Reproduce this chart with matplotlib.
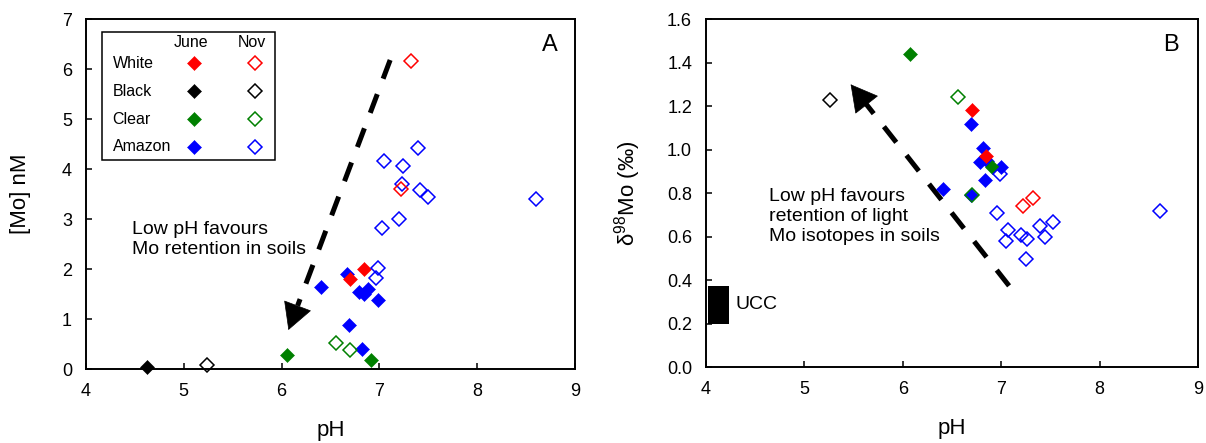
import matplotlib
matplotlib.use("Agg")
import matplotlib.pyplot as plt
from matplotlib.patches import Rectangle

plt.rcParams['font.family'] = ['Liberation Sans', 'DejaVu Sans']
plt.rcParams['mathtext.fontset'] = 'custom'
plt.rcParams['mathtext.rm'] = 'Liberation Sans'
plt.rcParams['mathtext.it'] = 'Liberation Sans:italic'

# ---------------- data : panel A  ([Mo] nM vs pH) ----------------
a_white_june_ph = [6.84, 6.70]
a_white_june_mo = [2.01, 1.81]
a_white_nov_ph = [7.32, 7.22]
a_white_nov_mo = [6.17, 3.61]
a_black_june_ph = [4.62]
a_black_june_mo = [0.05]
a_black_nov_ph = [5.24]
a_black_nov_mo = [0.08]
a_clear_june_ph = [6.06, 6.91]
a_clear_june_mo = [0.28, 0.18]
a_clear_nov_ph = [6.56, 6.70]
a_clear_nov_mo = [0.53, 0.39]
a_amazon_june_ph = [6.40, 6.67, 6.69, 6.79, 6.84, 6.88, 6.99, 6.82]
a_amazon_june_mo = [1.65, 1.91, 0.88, 1.55, 1.50, 1.60, 1.38, 0.41]
a_amazon_nov_ph = [7.39, 7.05, 7.24, 7.23, 7.42, 7.50, 7.20, 7.03, 6.99, 6.97, 8.60]
a_amazon_nov_mo = [4.43, 4.17, 4.07, 3.71, 3.58, 3.45, 3.00, 2.83, 2.03, 1.83, 3.40]

# ---------------- data : panel B  (d98Mo vs pH) ----------------
b_white_june_ph = [6.70, 6.85]
b_white_june_d = [1.18, 0.97]
b_white_nov_ph = [7.22, 7.32]
b_white_nov_d = [0.74, 0.78]
b_black_nov_ph = [5.26]
b_black_nov_d = [1.23]
b_clear_june_ph = [6.07, 6.91]
b_clear_june_d = [1.44, 0.92]
b_clear_nov_ph = [6.56, 6.70]
b_clear_nov_d = [1.24, 0.79]
b_amazon_june_ph = [6.69, 6.82, 6.78, 6.86, 7.00, 6.84, 6.41, 6.69]
b_amazon_june_d = [1.12, 1.01, 0.945, 0.95, 0.92, 0.86, 0.82, 0.79]
b_amazon_nov_ph = [6.99, 6.96, 7.07, 7.05, 7.20, 7.26, 7.25, 7.39, 7.44, 7.53, 8.61]
b_amazon_nov_d = [0.89, 0.71, 0.63, 0.58, 0.61, 0.59, 0.50, 0.65, 0.60, 0.67, 0.72]

ucc_ph = [4.02, 4.23]
ucc_d = [0.20, 0.375]

# arrows: (start of dashed shaft, arrow tip) in data units
arrow_a = [(7.11, 6.18), (6.07, 0.78)]
arrow_b = [(7.08, 0.375), (5.47, 1.30)]

legend_rows = ['White', 'Black', 'Clear', 'Amazon']
legend_cols = ['June', 'Nov']
colors = {'White': '#ff0000', 'Black': '#000000', 'Clear': '#008000', 'Amazon': '#0000ff'}

x_ticks = [4, 5, 6, 7, 8, 9]
a_yticks = [0, 1, 2, 3, 4, 5, 6, 7]
b_yticks = [0.0, 0.2, 0.4, 0.6, 0.8, 1.0, 1.2, 1.4, 1.6]

FS_TICK = 13
FS_LABEL = 16
MS_F = 7.2
MS_O = 6.7


def filled(ax, x, y, c):
    ax.plot(x, y, 'D', ls='none', ms=MS_F, mfc=c, mec=c, mew=0.4, zorder=3)


def opened(ax, x, y, c):
    ax.plot(x, y, 'D', ls='none', ms=MS_O, mfc='none', mec=c, mew=1.1, zorder=4)


def dashed_arrow(ax, start, tip):
    frac = 0.09
    base = (tip[0] + (start[0] - tip[0]) * frac, tip[1] + (start[1] - tip[1]) * frac)
    ax.plot([start[0], base[0]], [start[1], base[1]], color='black', lw=3.6,
            dashes=(4.0, 3.3), solid_capstyle='butt', dash_capstyle='butt', zorder=2)
    ax.annotate('', xy=tip, xytext=base,
                arrowprops=dict(arrowstyle='-|>,head_length=1.0,head_width=0.55',
                                mutation_scale=18, color='black', lw=0.5,
                                shrinkA=0, shrinkB=0), zorder=2)


def style(ax):
    for s in ax.spines.values():
        s.set_linewidth(1.4)
    ax.tick_params(direction='in', length=4, width=1.1, labelsize=FS_TICK, pad=10,
                   top=False, right=False)
    ax.set_xlim(4, 9)
    ax.set_xticks(x_ticks)
    ax.set_xlabel('pH', fontsize=FS_LABEL)
    ax.xaxis.set_label_coords(0.5, -0.145)


fig = plt.figure(figsize=(12.06, 4.43), dpi=100)
axA = fig.add_axes([0.07131, 0.16704, 0.40547, 0.79007])
axB = fig.add_axes([0.58541, 0.17043, 0.40796, 0.78668])

# ---------- Panel A ----------
style(axA)
axA.set_ylim(0, 7)
axA.set_yticks(a_yticks)
axA.set_ylabel('[Mo] nM', fontsize=FS_LABEL)
axA.yaxis.set_label_coords(-0.112, 0.5)

dashed_arrow(axA, arrow_a[0], arrow_a[1])
filled(axA, a_amazon_june_ph, a_amazon_june_mo, colors['Amazon'])
filled(axA, a_white_june_ph, a_white_june_mo, colors['White'])
filled(axA, a_clear_june_ph, a_clear_june_mo, colors['Clear'])
filled(axA, a_black_june_ph, a_black_june_mo, colors['Black'])
opened(axA, a_amazon_nov_ph, a_amazon_nov_mo, colors['Amazon'])
opened(axA, a_white_nov_ph, a_white_nov_mo, colors['White'])
opened(axA, a_clear_nov_ph, a_clear_nov_mo, colors['Clear'])
opened(axA, a_black_nov_ph, a_black_nov_mo, colors['Black'])
for ln in axA.lines:
    ln.set_clip_on(False)

axA.text(4.467, 2.59, 'Low pH favours\nMo retention in soils', fontsize=14,
         ha='left', va='center', linespacing=1.2)
axA.text(0.949, 0.926, 'A', transform=axA.transAxes, fontsize=17, ha='center', va='center')

# manual legend (table with June / Nov columns)
axA.add_patch(Rectangle((0.032, 0.597), 0.3545, 0.367, transform=axA.transAxes,
                        fill=True, facecolor='white', edgecolor='black', lw=1.1, zorder=5))
col_x = [0.221, 0.3456]
row_y = [0.873, 0.794, 0.714, 0.635]
for cx, name in zip(col_x, legend_cols):
    axA.text(cx - 0.007, 0.932, name, transform=axA.transAxes, fontsize=11.5,
             ha='center', va='center', zorder=6)
for ry, name in zip(row_y, legend_rows):
    axA.text(0.0545, ry, name, transform=axA.transAxes, fontsize=11.5,
             ha='left', va='center', zorder=6)
    c = colors[name]
    axA.plot([col_x[0]], [ry], 'D', transform=axA.transAxes, ms=MS_F, mfc=c, mec=c,
             mew=0.4, zorder=6, clip_on=False)
    axA.plot([col_x[1]], [ry], 'D', transform=axA.transAxes, ms=MS_O, mfc='none', mec=c,
             mew=1.1, zorder=6, clip_on=False)

# ---------- Panel B ----------
style(axB)
axB.set_ylim(0, 1.6)
axB.set_yticks(b_yticks)
axB.set_yticklabels([f'{v:.1f}' for v in b_yticks])
axB.set_ylabel('δ$^{98}$Mo (‰)', fontsize=FS_LABEL)
axB.yaxis.set_label_coords(-0.128, 0.5)

dashed_arrow(axB, arrow_b[0], arrow_b[1])
axB.fill_between(ucc_ph, [ucc_d[0]] * 2, [ucc_d[1]] * 2, color='black', lw=0, zorder=2)
axB.text(4.30, sum(ucc_d) / 2, 'UCC', fontsize=14, ha='left', va='center')

filled(axB, b_amazon_june_ph, b_amazon_june_d, colors['Amazon'])
filled(axB, b_white_june_ph, b_white_june_d, colors['White'])
filled(axB, b_clear_june_ph, b_clear_june_d, colors['Clear'])
opened(axB, b_amazon_nov_ph, b_amazon_nov_d, colors['Amazon'])
opened(axB, b_white_nov_ph, b_white_nov_d, colors['White'])
opened(axB, b_clear_nov_ph, b_clear_nov_d, colors['Clear'])
opened(axB, b_black_nov_ph, b_black_nov_d, colors['Black'])

axB.text(4.64, 0.693, 'Low pH favours\nretention of light\nMo isotopes in soils', fontsize=14,
         ha='left', va='center', linespacing=1.2)
axB.text(0.945, 0.925, 'B', transform=axB.transAxes, fontsize=17, ha='center', va='center')

fig.savefig('out.png', dpi=100)
